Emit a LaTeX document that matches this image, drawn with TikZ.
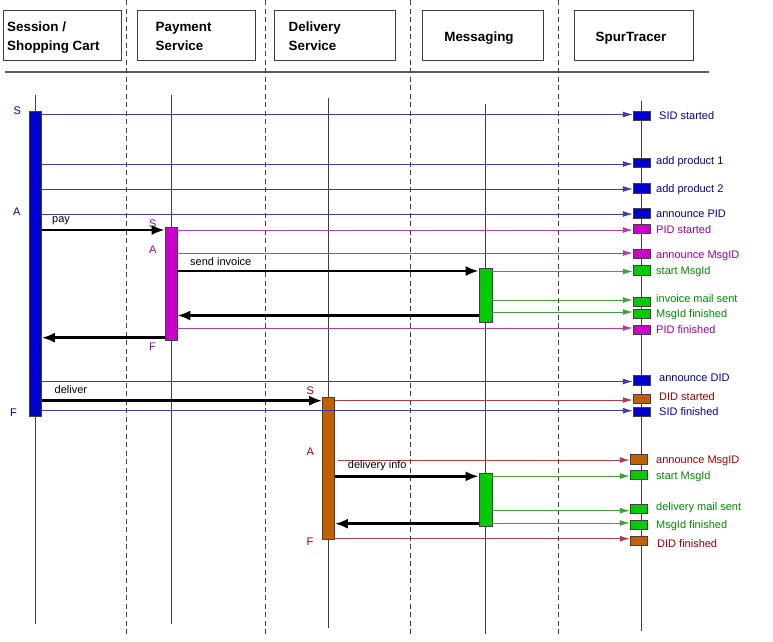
\documentclass[tikz,border=0pt]{standalone}
\usepackage{fontspec}
\setmainfont{Liberation Sans}
\usetikzlibrary{arrows.meta}
\definecolor{blueF}{HTML}{0000CC}
\definecolor{magF}{HTML}{CC00CC}
\definecolor{greenF}{HTML}{00CC00}
\definecolor{orangeF}{HTML}{C06000}
\definecolor{blueL}{HTML}{3C3CA8}
\definecolor{magL}{HTML}{B040B0}
\definecolor{greenL}{HTML}{40A040}
\definecolor{redL}{HTML}{B04040}
\definecolor{blueT}{HTML}{000099}
\definecolor{magT}{HTML}{990099}
\definecolor{greenT}{HTML}{008800}
\definecolor{redT}{HTML}{990000}
\definecolor{lineG}{HTML}{404040}
\begin{document}
\begin{tikzpicture}[x=1pt,y=-1pt,
  hbox/.style={draw=lineG,line width=0.9pt,rectangle,inner sep=0pt,minimum height=50pt},
  htext/.style={anchor=base west,inner sep=0pt,font=\fontsize{13.4}{15}\selectfont\bfseries},
  hctext/.style={anchor=base,inner sep=0pt,font=\fontsize{13.4}{15}\selectfont\bfseries},
  lifeline/.style={draw=lineG,line width=0.9pt},
  sep/.style={draw=lineG,line width=0.8pt,dash pattern=on 5pt off 3.5pt},
  bar/.style={rectangle,draw=black!75,line width=0.6pt,inner sep=0pt,minimum width=12pt},
  tbox/.style={rectangle,draw=black!75,line width=0.5pt,inner sep=0pt,minimum width=17pt,minimum height=9.5pt},
  tlab/.style={anchor=base west,inner sep=0pt,font=\fontsize{11}{12}\selectfont},
  mlab/.style={anchor=base west,inner sep=0pt,font=\fontsize{11}{12}\selectfont},
  sfa/.style={anchor=base west,inner sep=0pt,font=\fontsize{11}{12}\selectfont},
  tl/.style={line width=0.9pt,-{Latex[length=10pt,width=6pt]}},
  msg/.style={draw=black,line width=2.6pt,-{Latex[length=13pt,width=10pt]}}
]
\useasboundingbox (0,0) rectangle (773,641);

% header boxes
\node[hbox,minimum width=118pt] (h1) at (62,35.5) {};
\node[hbox,minimum width=118.5pt] (h2) at (196.25,35.5) {};
\node[hbox,minimum width=121pt] (h3) at (334.5,35.5) {};
\node[hbox,minimum width=121pt] (h4) at (482.5,35.5) {};
\node[hbox,minimum width=119pt] (h5) at (633.5,35.5) {};
\node[htext] (h1a) at (7,31) {Session /};
\node[htext] (h1b) at (7,50) {Shopping Cart};
\node[htext] (h2a) at (155.5,31) {Payment};
\node[htext] (h2b) at (155.5,50) {Service};
\node[htext] (h3a) at (288.5,31) {Delivery};
\node[htext] (h3b) at (288.5,50) {Service};
\node[hctext] (h4a) at (479,41.5) {Messaging};
\node[hctext] (h5a) at (631,41.5) {SpurTracer};

% header rule
\coordinate (rl) at (5,72);
\coordinate (rr) at (709,72);
\draw[draw=black!65,line width=2pt] (rl) -- (rr);

% separators
\foreach \i/\x in {1/126.5,2/265.5,3/410.5,4/558.5}{
  \coordinate (d\i t) at (\x,0);
  \coordinate (d\i b) at (\x,636);
  \draw[sep] (d\i t) -- (d\i b);
}

% lifelines
\coordinate (lSt) at (35.5,95);   \coordinate (lSb) at (35.5,624);
\coordinate (lPt) at (171,95);    \coordinate (lPb) at (171,624);
\coordinate (lDt) at (328.5,98);  \coordinate (lDb) at (328.5,628);
\coordinate (lMt) at (485.5,104); \coordinate (lMb) at (485.5,634);
\coordinate (lTt) at (641.5,101); \coordinate (lTb) at (641.5,631);
\draw[lifeline] (lSt) -- (lSb);
\draw[lifeline] (lPt) -- (lPb);
\draw[lifeline] (lDt) -- (lDb);
\draw[lifeline] (lMt) -- (lMb);
\draw[lifeline] (lTt) -- (lTb);

% activation bars
\node[bar,fill=blueF,minimum height=305pt] (barS) at (35.5,263.5) {};
\node[bar,fill=magF,minimum height=113pt] (barP) at (171,283.5) {};
\node[bar,fill=orangeF,minimum height=142pt] (barD) at (328.5,468) {};
\node[bar,fill=greenF,minimum width=13pt,minimum height=54pt] (barM1) at (485.5,295) {};
\node[bar,fill=greenF,minimum width=13pt,minimum height=53pt] (barM2) at (485.5,499.5) {};

% S/A/F markers
\node[sfa,text=blueT] (sS) at (13.5,114) {S};
\node[sfa,text=blueT] (sA) at (13,215) {A};
\node[sfa,text=blueT] (sF) at (10,416.5) {F};
\node[sfa,text=magT] (pS) at (149,227) {S};
\node[sfa,text=magT] (pA) at (149,253) {A};
\node[sfa,text=magT] (pF) at (149,350) {F};
\node[sfa,text=redT] (dS) at (306.5,394) {S};
\node[sfa,text=redT] (dA) at (306.5,455) {A};
\node[sfa,text=redT] (dF) at (306.5,545.5) {F};

% tracer boxes
\node[tbox,fill=blueF] (t1) at (641.5,115.5) {};
\node[tbox,fill=blueF] (t2) at (641.5,162.5) {};
\node[tbox,fill=blueF] (t3) at (641.5,188) {};
\node[tbox,fill=blueF] (t4) at (641.5,213) {};
\node[tbox,fill=magF] (t5) at (641.5,228.5) {};
\node[tbox,fill=magF] (t6) at (641.5,253.5) {};
\node[tbox,fill=greenF] (t7) at (641.5,270) {};
\node[tbox,fill=greenF] (t8) at (641.5,301.5) {};
\node[tbox,fill=greenF] (t9) at (641.5,313.5) {};
\node[tbox,fill=magF] (t10) at (641.5,329.5) {};
\node[tbox,fill=blueF] (t11) at (641.5,380) {};
\node[tbox,fill=orangeF] (t12) at (641.5,398.5) {};
\node[tbox,fill=blueF] (t13) at (641.5,411.5) {};
\node[tbox,fill=orangeF] (t14) at (638.5,459) {};
\node[tbox,fill=greenF] (t15) at (638.5,474.5) {};
\node[tbox,fill=greenF] (t16) at (638.5,508.5) {};
\node[tbox,fill=greenF] (t17) at (638.5,524.5) {};
\node[tbox,fill=orangeF] (t18) at (638.5,540.5) {};

% tracer labels
\node[tlab,text=blueT] (l1) at (659,119.3) {SID started};
\node[tlab,text=blueT] (l2) at (656,164.8) {add product 1};
\node[tlab,text=blueT] (l3) at (656,192.6) {add product 2};
\node[tlab,text=blueT] (l4) at (656,217) {announce PID};
\node[tlab,text=magT] (l5) at (656,233) {PID started};
\node[tlab,text=magT] (l6) at (656,258) {announce MsgID};
\node[tlab,text=greenT] (l7) at (656,274.3) {start MsgId};
\node[tlab,text=greenT] (l8) at (656,302.8) {invoice mail sent};
\node[tlab,text=greenT] (l9) at (656,317.6) {MsgId finished};
\node[tlab,text=magT] (l10) at (656,333.6) {PID finished};
\node[tlab,text=blueT] (l11) at (659,381.5) {announce DID};
\node[tlab,text=redT] (l12) at (659,400.3) {DID started};
\node[tlab,text=blueT] (l13) at (659,415.6) {SID finished};
\node[tlab,text=redT] (l14) at (656,463.6) {announce MsgID};
\node[tlab,text=greenT] (l15) at (656,479.6) {start MsgId};
\node[tlab,text=greenT] (l16) at (656,510.3) {delivery mail sent};
\node[tlab,text=greenT] (l17) at (656,528.6) {MsgId finished};
\node[tlab,text=redT] (l18) at (657,547.6) {DID finished};

% y levels of trace lines
\foreach \n/\y in {1/114.5,2/164,3/189,4/214,5/230,6/253,7/271.5,8/300,9/312,10/328,
                   11/381.5,12/400,13/410.7,14/460,15/476,16/510.7,17/523,18/538.7}{
  \coordinate (y\n) at (0,\y);
}
\coordinate (x14) at (337.5,460);

\draw[tl,blueL] (barS.east |- y1) -- (y1 -| t1.west);
\draw[tl,blueL] (barS.east |- y2) -- (y2 -| t2.west);
\draw[tl,blueL] (barS.east |- y3) -- (y3 -| t3.west);
\draw[tl,blueL] (barS.east |- y4) -- (y4 -| t4.west);
\draw[tl,magL] (barP.east |- y5) -- (y5 -| t5.west);
\draw[tl,magL] (barP.east |- y6) -- (y6 -| t6.west);
\draw[tl,greenL] (barM1.east |- y7) -- (y7 -| t7.west);
\draw[tl,greenL] (barM1.east |- y8) -- (y8 -| t8.west);
\draw[tl,greenL] (barM1.east |- y9) -- (y9 -| t9.west);
\draw[tl,magL] (barP.east |- y10) -- (y10 -| t10.west);
\draw[tl,blueL] (barS.east |- y11) -- (y11 -| t11.west);
\draw[tl,redL] (barD.east |- y12) -- (y12 -| t12.west);
\draw[tl,blueL] (barS.east |- y13) -- (y13 -| t13.west);
\draw[tl,redL] (x14) -- (y14 -| t14.west);
\draw[tl,greenL] (barM2.east |- y15) -- (y15 -| t15.west);
\draw[tl,greenL] (barM2.east |- y16) -- (y16 -| t16.west);
\draw[tl,greenL] (barM2.east |- y17) -- (y17 -| t17.west);
\draw[tl,redL] (barD.east |- y18) -- (y18 -| t18.west);

% messages
\coordinate (mPay) at (0,230);
\coordinate (mInv) at (0,271);
\coordinate (mRet1) at (0,315.5);
\coordinate (mRet2) at (0,337.7);
\coordinate (mDel) at (0,400.7);
\coordinate (mInfo) at (0,476.3);
\coordinate (mRet3) at (0,523.7);
\draw[msg] (barS.east |- mPay) -- (barP.west |- mPay);
\draw[msg] (barP.east |- mInv) -- (barM1.west |- mInv);
\draw[msg] (barM1.west |- mRet1) -- (barP.east |- mRet1);
\draw[msg] (barP.west |- mRet2) -- (barS.east |- mRet2);
\draw[msg] (barS.east |- mDel) -- (barD.west |- mDel);
\draw[msg] (barD.east |- mInfo) -- (barM2.west |- mInfo);
\draw[msg] (barM2.west |- mRet3) -- (barD.east |- mRet3);

\node[mlab] (pay) at (52,222) {pay};
\node[mlab] (inv) at (190,265) {send invoice};
\node[mlab] (del) at (54.5,393) {deliver};
\node[mlab] (dinf) at (347.7,468.5) {delivery info};
\end{tikzpicture}
\end{document}
